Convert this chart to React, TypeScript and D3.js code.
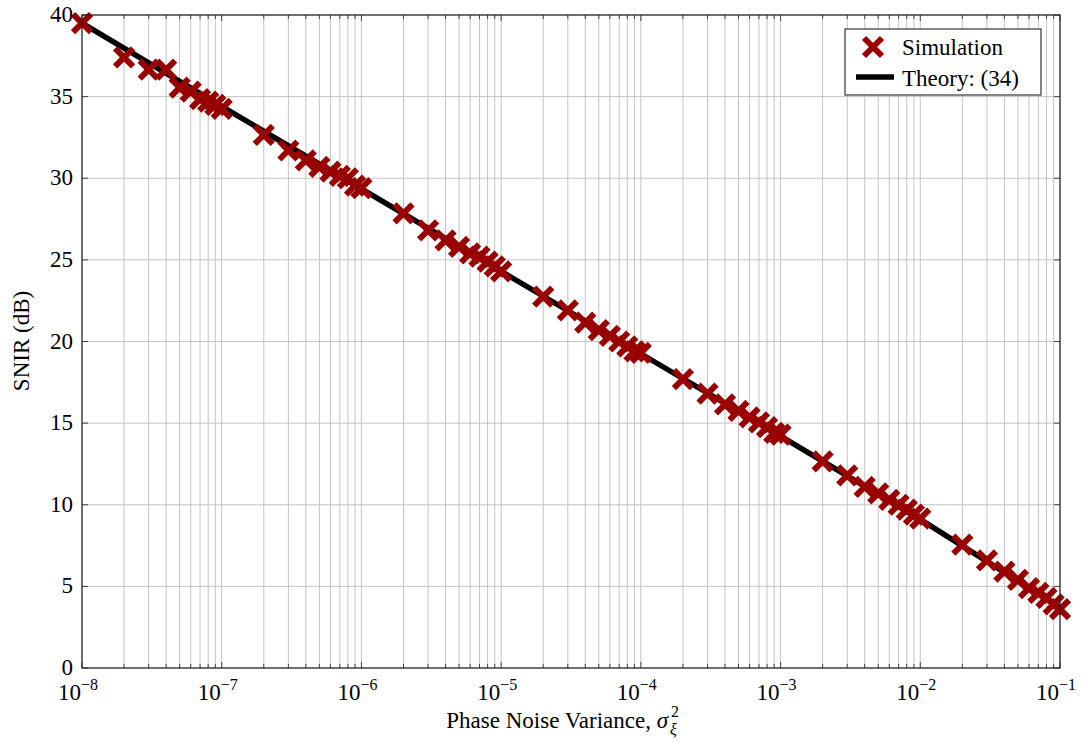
import React from "react";
import * as d3 from "d3";

// ---- data ----
const simX: number[] = [
  1e-8, 2e-8, 3e-8, 4e-8, 5e-8, 6e-8, 7e-8, 8e-8, 9e-8,
  1e-7, 2e-7, 3e-7, 4e-7, 5e-7, 6e-7, 7e-7, 8e-7, 9e-7,
  1e-6, 2e-6, 3e-6, 4e-6, 5e-6, 6e-6, 7e-6, 8e-6, 9e-6,
  1e-5, 2e-5, 3e-5, 4e-5, 5e-5, 6e-5, 7e-5, 8e-5, 9e-5,
  1e-4, 2e-4, 3e-4, 4e-4, 5e-4, 6e-4, 7e-4, 8e-4, 9e-4,
  1e-3, 2e-3, 3e-3, 4e-3, 5e-3, 6e-3, 7e-3, 8e-3, 9e-3,
  1e-2, 2e-2, 3e-2, 4e-2, 5e-2, 6e-2, 7e-2, 8e-2, 9e-2,
  1e-1,
];
const simY: number[] = [
  39.5, 37.4, 36.65, 36.65, 35.55, 35.3, 34.85, 34.7, 34.5,
  34.25, 32.65, 31.7, 31.1, 30.7, 30.4, 30.15, 30.0, 29.55,
  29.4, 27.85, 26.8, 26.2, 25.8, 25.4, 25.2, 24.9, 24.6,
  24.3, 22.75, 21.9, 21.15, 20.7, 20.35, 20.0, 19.7, 19.4,
  19.3, 17.7, 16.8, 16.15, 15.75, 15.35, 15.05, 14.75, 14.4,
  14.3, 12.65, 11.8, 11.1, 10.7, 10.3, 10.0, 9.7, 9.4,
  9.15, 7.55, 6.6, 5.9, 5.4, 4.9, 4.6, 4.3, 3.9,
  3.6,
];
const theoryX: number[] = [1e-8, 1e-7, 1e-6, 1e-5, 1e-4, 1e-3, 1e-2, 1e-1];
const theoryY: number[] = [39.5, 34.4, 29.35, 24.3, 19.25, 14.2, 9.1, 3.7];

const xTickExps: number[] = [-8, -7, -6, -5, -4, -3, -2, -1];
const yTicks: number[] = [0, 5, 10, 15, 20, 25, 30, 35, 40];
const minorMultipliers: number[] = [2, 3, 4, 5, 6, 7, 8, 9];

const legendLabels: string[] = ["Simulation", "Theory: (34)"];

// ---- layout ----
const W = 1089;
const H = 743;
const L = 82;
const R = 1060;
const T = 15;
const B = 668;
const FONT = "'Liberation Serif', 'Times New Roman', serif";
const FS = 23;
const FS_SMALL = 16;
const RED = "#990000";
const GRID = "#c4c4c4";

const xScale = d3.scaleLog().domain([1e-8, 1e-1]).range([L, R]);
const yScale = d3.scaleLinear().domain([0, 40]).range([B, T]);

function Cross({ cx, cy, s = 9 }: { cx: number; cy: number; s?: number }) {
  return (
    <path
      d={`M${cx - s},${cy - s}L${cx + s},${cy + s}M${cx - s},${cy + s}L${cx + s},${cy - s}`}
      stroke={RED}
      strokeWidth={6}
      fill="none"
    />
  );
}

export default function App() {
  const minorXs: number[] = [];
  xTickExps.slice(0, -1).forEach((e) => {
    minorMultipliers.forEach((m) => minorXs.push(m * Math.pow(10, e)));
  });
  const majorXs = xTickExps.map((e) => Math.pow(10, e));

  const line = d3
    .line<number>()
    .x((_, i) => xScale(theoryX[i]))
    .y((d) => yScale(d));

  return (
    <svg
      width={W}
      height={H}
      style={{ position: "absolute", left: 0, top: 0, background: "#fff" }}
      fontFamily={FONT}
    >
      <rect x={0} y={0} width={W} height={H} fill="#fff" />
      {/* grid */}
      <g stroke={GRID} strokeWidth={1}>
        {minorXs.map((v, i) => (
          <line key={"mg" + i} x1={xScale(v)} x2={xScale(v)} y1={T} y2={B} />
        ))}
        {majorXs.map((v, i) => (
          <line key={"Mg" + i} x1={xScale(v)} x2={xScale(v)} y1={T} y2={B} />
        ))}
        {yTicks.map((v, i) => (
          <line key={"yg" + i} x1={L} x2={R} y1={yScale(v)} y2={yScale(v)} />
        ))}
      </g>
      {/* ticks */}
      <g stroke="#333" strokeWidth={0.9}>
        {minorXs.map((v, i) => (
          <g key={"mt" + i}>
            <line x1={xScale(v)} x2={xScale(v)} y1={B} y2={B - 4} />
            <line x1={xScale(v)} x2={xScale(v)} y1={T} y2={T + 4} />
          </g>
        ))}
        {majorXs.map((v, i) => (
          <g key={"Mt" + i}>
            <line x1={xScale(v)} x2={xScale(v)} y1={B} y2={B - 6} />
            <line x1={xScale(v)} x2={xScale(v)} y1={T} y2={T + 6} />
          </g>
        ))}
        {yTicks.map((v, i) => (
          <g key={"yt" + i}>
            <line x1={L} x2={L + 6} y1={yScale(v)} y2={yScale(v)} />
            <line x1={R} x2={R - 6} y1={yScale(v)} y2={yScale(v)} />
          </g>
        ))}
      </g>
      {/* theory line */}
      <path d={line(theoryY) || ""} stroke="#000" strokeWidth={5.5} fill="none" />
      {/* simulation markers */}
      {simY.map((v, i) => (
        <Cross key={"s" + i} cx={xScale(simX[i])} cy={yScale(v)} />
      ))}
      {/* frame */}
      <rect x={L} y={T} width={R - L} height={B - T} fill="none" stroke="#222" strokeWidth={1.2} />
      {/* y tick labels */}
      {yTicks.map((v, i) => (
        <text key={"yl" + i} x={L - 9} y={yScale(v) + 7} textAnchor="end" fontSize={FS}>
          {v}
        </text>
      ))}
      {/* x tick labels */}
      {xTickExps.map((e, i) => (
        <g key={"xl" + i}>
          <text x={xScale(Math.pow(10, e)) - 1} y={700} textAnchor="end" fontSize={FS}>
            10
          </text>
          <text x={xScale(Math.pow(10, e)) - 1} y={690} textAnchor="start" fontSize={FS_SMALL}>
            {"\u2212" + Math.abs(e)}
          </text>
        </g>
      ))}
      {/* axis titles */}
      <text x={668} y={728} textAnchor="end" fontSize={FS}>
        Phase Noise Variance, <tspan fontStyle="italic">σ</tspan>
      </text>
      <text x={671} y={717} fontSize={FS_SMALL}>2</text>
      <text x={670} y={735} fontSize={FS_SMALL} fontStyle="italic">ξ</text>
      <text
        transform={`translate(29,341) rotate(-90)`}
        textAnchor="middle"
        fontSize={FS}
      >
        SNIR (dB)
      </text>
      {/* legend */}
      <rect x={845} y={29} width={196} height={66} fill="#fff" stroke="#222" strokeWidth={1.1} />
      <Cross cx={873} cy={47} />
      <line x1={856} x2={894} y1={77} y2={77} stroke="#000" strokeWidth={5.5} />
      <text x={902} y={55} fontSize={FS}>
        {legendLabels[0]}
      </text>
      <text x={902} y={86} fontSize={FS}>
        {legendLabels[1]}
      </text>
    </svg>
  );
}
